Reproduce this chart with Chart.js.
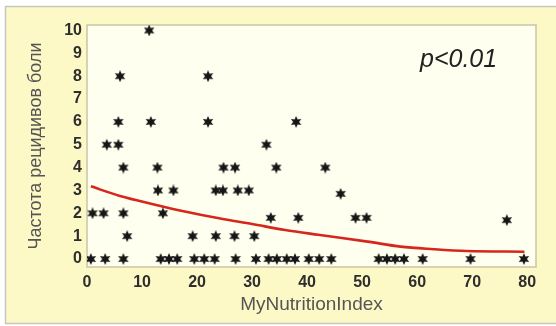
<!DOCTYPE html>
<html>
<head>
<meta charset="utf-8">
<script src="https://cdn.jsdelivr.net/npm/chart.js@4"></script>
<style>
html, body { margin: 0; padding: 0; background: #fff; }
</style>
</head>
<body>
<canvas id="painChart" width="556" height="326"></canvas>
<script>
// Stars: MyNutritionIndex vs frequency of pain relapses
const starX = [
    0.7, 3.3, 6.6, 13.4, 14.9, 16.4, 19.5, 21.3, 23.2, 27.0, 30.7, 33.0, 34.5,
    36.3, 37.8, 40.3, 42.2, 44.4, 53.0, 54.5, 56.0, 57.6, 61.0, 69.7, 79.4,
    7.3, 19.2, 23.4, 26.8, 30.4,
    1.0, 3.0, 6.6, 13.8, 33.4, 38.4, 48.8, 50.8, 76.3,
    46.1, 12.9, 15.7, 23.4, 24.7, 27.4, 29.4,
    6.6, 12.8, 24.8, 26.9, 34.4, 43.3,
    3.6, 5.7, 32.6,
    5.7, 11.6, 22.0, 38.0,
    6.0, 22.0,
    11.3
];
const starY = [
    0, 0, 0, 0, 0, 0, 0, 0, 0, 0, 0, 0, 0,
    0, 0, 0, 0, 0, 0, 0, 0, 0, 0, 0, 0,
    1, 1, 1, 1, 1,
    2, 2, 2, 2, 1.8, 1.8, 1.8, 1.8, 1.7,
    2.85, 3, 3, 3, 3, 3, 3,
    4, 4, 4, 4, 4, 4,
    5, 5, 5,
    6, 6, 6, 6,
    8, 8,
    10
];

// Red trend curve, read at several points along it
const curveX = [0.7, 6, 12, 18, 24, 30, 36, 42, 51, 57, 63, 69, 79.5];
const curveY = [3.18, 2.76, 2.40, 2.07, 1.78, 1.53, 1.27, 1.06, 0.76, 0.54, 0.43, 0.35, 0.32];

const xTicks = [0, 10, 20, 30, 40, 50, 60, 70, 80];
const yTicks = [0, 1, 2, 3, 4, 5, 6, 7, 8, 9, 10];

const xTitle = 'MyNutritionIndex';
const yTitle = 'Частота рецидивов боли';
const pLabel = 'p<0.01';

// six pointed filled star used as the marker
function makeStar(size) {
    const c = document.createElement('canvas');
    c.width = c.height = size;
    const g = c.getContext('2d');
    const r = size / 2;
    const ri = r * 0.5;
    g.beginPath();
    for (let i = 0; i < 12; i++) {
        const a = -Math.PI / 2 + i * Math.PI / 6;
        const rr = i % 2 ? ri : r;
        g.lineTo(r + rr * Math.cos(a), r + rr * Math.sin(a));
    }
    g.closePath();
    g.fillStyle = '#161616';
    g.fill();
    return c;
}

const panelPlugin = {
    id: 'panel',
    beforeDraw(chart) {
        const ctx = chart.ctx;
        const a = chart.chartArea;
        ctx.save();
        ctx.fillStyle = '#ffffff';
        ctx.fillRect(0, 0, chart.width, chart.height);
        // outer yellow panel
        ctx.fillStyle = '#fdf9c6';
        ctx.fillRect(5.5, 6.5, chart.width, 317);
        ctx.strokeStyle = '#c6c6c0';
        ctx.lineWidth = 1.5;
        ctx.strokeRect(5.5, 6.5, chart.width, 317);
        // plot area
        ctx.fillStyle = '#fffff0';
        ctx.fillRect(a.left, a.top, a.right - a.left, a.bottom - a.top);
        ctx.strokeStyle = '#c8c5a6';
        ctx.lineWidth = 1.5;
        ctx.strokeRect(a.left, a.top, a.right - a.left, a.bottom - a.top);
        ctx.restore();
    },
    afterDraw(chart) {
        const ctx = chart.ctx;
        const a = chart.chartArea;
        ctx.save();
        ctx.font = 'italic 25px "Liberation Sans", Arial, sans-serif';
        ctx.fillStyle = '#222222';
        ctx.textBaseline = 'alphabetic';
        ctx.fillText(pLabel, a.right - 116, a.top + 42);
        ctx.restore();
    }
};

const starImg = makeStar(12);

new Chart(document.getElementById('painChart'), {
    type: 'scatter',
    data: {
        datasets: [
            {
                type: 'line',
                data: curveX.map((x, i) => ({ x: x, y: curveY[i] })),
                borderColor: '#d6261e',
                borderWidth: 2.6,
                pointRadius: 0,
                cubicInterpolationMode: 'monotone',
                fill: false,
                order: 2
            },
            {
                data: starX.map((x, i) => ({ x: x, y: starY[i] })),
                pointStyle: starImg,
                pointRadius: 6,
                order: 1
            }
        ]
    },
    options: {
        responsive: false,
        animation: false,
        layout: {
            padding: { left: 0, right: 20, top: 25, bottom: 0 }
        },
        plugins: {
            legend: { display: false },
            tooltip: { enabled: false }
        },
        scales: {
            x: {
                type: 'linear',
                min: 0,
                max: 81.6,
                grid: { display: false, drawTicks: false },
                border: { display: false },
                afterBuildTicks: function(scale) {
                    scale.ticks = xTicks.map(v => ({ value: v }));
                },
                afterFit: function(scale) {
                    scale.height = 59;
                },
                ticks: {
                    color: '#2e2e2e',
                    padding: 6,
                    autoSkip: false,
                    maxRotation: 0,
                    font: { family: '"Liberation Sans", Arial, sans-serif', size: 16, weight: 'bold' }
                },
                title: {
                    display: true,
                    text: xTitle,
                    color: '#555555',
                    padding: { top: 0, bottom: 10 },
                    font: { family: '"Liberation Sans", Arial, sans-serif', size: 19 }
                }
            },
            y: {
                type: 'linear',
                min: -0.35,
                max: 10.24,
                grid: { display: false, drawTicks: false },
                border: { display: false },
                afterBuildTicks: function(scale) {
                    scale.ticks = yTicks.map(v => ({ value: v }));
                },
                afterFit: function(scale) {
                    scale.width = 87;
                },
                ticks: {
                    color: '#2e2e2e',
                    padding: 5,
                    autoSkip: false,
                    font: { family: '"Liberation Sans", Arial, sans-serif', size: 16, weight: 'bold' }
                },
                title: {
                    display: true,
                    text: yTitle,
                    color: '#555555',
                    padding: { top: 25, bottom: 0 },
                    font: { family: '"Liberation Sans", Arial, sans-serif', size: 18 }
                }
            }
        }
    },
    plugins: [panelPlugin]
});
</script>
</body>
</html>
